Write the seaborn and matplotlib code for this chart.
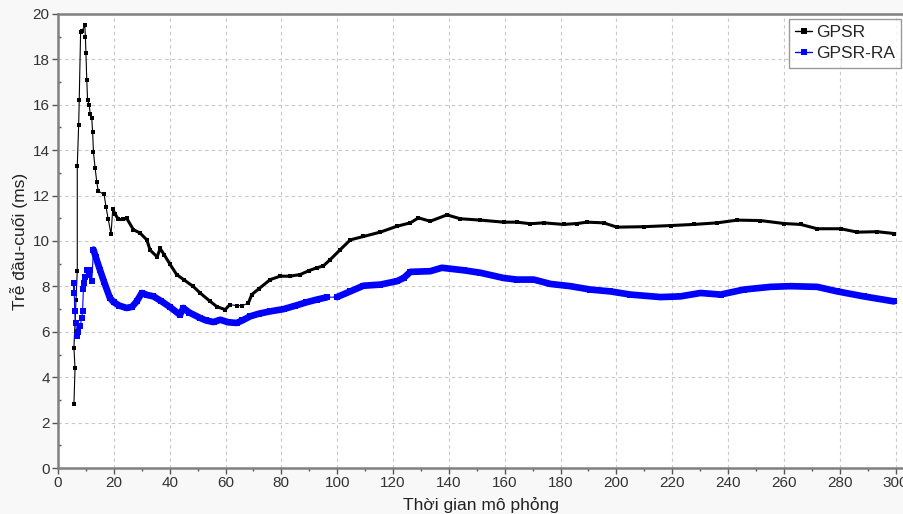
import numpy as np
import pandas as pd
import matplotlib
matplotlib.use("Agg")
import matplotlib.pyplot as plt
import seaborn as sns
from matplotlib.ticker import MultipleLocator

## Data
gpsr_x = [5.7, 6.1, 5.7, 6.45, 6.9, 6.9, 7.4, 7.6, 8.1, 8.6, 9.6, 9.8, 10.0, 10.3,
          10.6, 11.2, 11.5, 12.1, 12.4, 12.7, 13.3, 13.9, 14.4, 16.5, 17.2, 18.0,
          19.0, 19.6, 20.4, 21.6, 23.4, 24.6, 27.0, 29.4, 31.8, 33.0, 35.5, 36.6,
          38.0, 40.0, 42.5, 45.0, 48.4, 51.0, 54.5, 57.0, 59.9, 61.6, 64.0, 66.0,
          68.2, 69.4, 72.0, 76.0, 79.6, 83.0, 86.7, 90.0, 92.7, 95.0, 97.5, 101.1,
          104.7, 109.4, 115.4, 121.4, 126.2, 129.1, 133.3, 139.3, 144.1, 151.3,
          159.6, 164.4, 169.2, 173.9, 181.1, 185.9, 189.5, 195.4, 200.2, 209.8,
          219.4, 227.7, 236.1, 243.3, 251.6, 260.0, 266.0, 271.9, 280.3, 286.3,
          293.4, 299.4]
gpsr_y = [2.8, 4.4, 5.3, 7.4, 8.7, 13.3, 15.1, 16.2, 19.2, 19.25, 19.5, 19.0, 18.3,
          17.1, 16.2, 16.0, 15.6, 15.4, 14.8, 13.9, 13.2, 12.6, 12.2, 12.05, 11.5,
          10.95, 10.3, 11.4, 11.2, 10.95, 10.95, 11.0, 10.5, 10.35, 10.05, 9.6, 9.3,
          9.67, 9.4, 9.0, 8.52, 8.3, 8.0, 7.7, 7.34, 7.1, 6.98, 7.2, 7.15, 7.15,
          7.27, 7.64, 7.9, 8.3, 8.45, 8.45, 8.52, 8.7, 8.82, 8.9, 9.18, 9.62,
          10.05, 10.2, 10.39, 10.65, 10.8, 11.02, 10.87, 11.15, 10.98, 10.92,
          10.83, 10.83, 10.76, 10.8, 10.73, 10.77, 10.83, 10.8, 10.61, 10.63,
          10.68, 10.73, 10.8, 10.92, 10.9, 10.77, 10.73, 10.54, 10.54, 10.39,
          10.41, 10.33]

ra_x = [5.6, 5.7, 6.0, 6.3, 6.9, 7.3, 7.9, 8.5, 8.8, 9.1, 9.3, 9.8, 10.5, 11.2,
        11.6, 12.1, 12.7, 13.5, 15.0, 16.5, 18.6, 20.0, 22.0, 24.6, 26.5, 28.2,
        30.0, 32.0, 34.2, 37.0, 40.0, 43.7, 44.9, 47.0, 50.9, 53.0, 55.7, 58.1,
        61.0, 64.0, 66.0, 68.8, 72.0, 76.0, 80.8, 85.0, 89.0, 92.7, 96.3, 99.9,
        104.7, 109.4, 115.4, 121.4, 123.8, 126.2, 133.3, 137.5, 145.3, 151.3,
        159.6, 164.4, 170.4, 176.3, 183.5, 190.7, 197.8, 205.0, 215.8, 222.9,
        230.1, 237.3, 245.6, 255.2, 262.4, 271.9, 279.1, 288.6, 299.4]
ra_y = [7.7, 8.15, 6.9, 6.4, 5.8, 6.0, 6.24, 6.6, 6.9, 7.9, 8.15, 8.4, 8.74, 8.5,
        8.74, 8.23, 9.62, 9.3, 8.74, 8.2, 7.49, 7.3, 7.15, 7.05, 7.1, 7.34,
        7.71, 7.62, 7.56, 7.35, 7.1, 6.75, 7.05, 6.85, 6.61, 6.5, 6.43, 6.53,
        6.42, 6.39, 6.5, 6.68, 6.8, 6.9, 7.0, 7.15, 7.3, 7.42, 7.52, 7.53,
        7.78, 8.03, 8.08, 8.23, 8.37, 8.64, 8.67, 8.82, 8.71, 8.6, 8.37, 8.3,
        8.3, 8.11, 8.01, 7.86, 7.78, 7.64, 7.53, 7.56, 7.71, 7.64, 7.86, 7.98,
        8.01, 7.98, 7.78, 7.56, 7.34]

series_names = ["GPSR", "GPSR-RA"]
x_label = "Thời gian mô phỏng"
y_label = "Trễ đầu-cuối (ms)"

## Build a long table for seaborn
df = pd.concat([
    pd.DataFrame({"t": gpsr_x, "delay": gpsr_y, "proto": series_names[0]}),
    pd.DataFrame({"t": ra_x, "delay": ra_y, "proto": series_names[1]}),
], ignore_index=True)
df["idx"] = df.groupby("proto").cumcount()

sns.set_theme(style="white")
plt.rcParams["font.family"] = ["Liberation Sans", "DejaVu Sans"]

fig = plt.figure(figsize=(9.04, 5.14), dpi=100, facecolor="#f8f8f8")
ax = fig.add_axes([58 / 904, 1 - 468 / 514, 1 - 58 / 904, (468 - 14) / 514])
ax.set_facecolor("white")

palette = {"GPSR": "black", "GPSR-RA": "#0000ff"}
thick = {"GPSR": 2.2, "GPSR-RA": 4.8}
marks = {"GPSR": 2.6, "GPSR-RA": 5.0}
# dense stretches of markers (drawn as a thick trace); outside them only a thin line
dense = {"GPSR": [(19.5, 61.7), (68.0, 301)],
         "GPSR-RA": [(12.6, 96.4), (99.8, 301)]}

for name in series_names:
    sub = df[df["proto"] == name]
    sns.lineplot(data=sub, x="t", y="delay", ax=ax, color=palette[name],
                 linewidth=0.8, marker="s", markersize=marks[name],
                 markeredgewidth=0, sort=False, estimator=None, label=name)
    for lo, hi in dense[name]:
        part = sub[(sub["t"] >= lo) & (sub["t"] <= hi)]
        sns.lineplot(data=part, x="t", y="delay", ax=ax, color=palette[name],
                     linewidth=thick[name], sort=False, estimator=None,
                     legend=False)

ax.set_xlim(0, 303)
ax.set_ylim(0, 20)
ax.xaxis.set_major_locator(MultipleLocator(20))
ax.xaxis.set_minor_locator(MultipleLocator(10))
ax.yaxis.set_major_locator(MultipleLocator(2))
ax.yaxis.set_minor_locator(MultipleLocator(1))

ax.grid(True, which="major", color="#c8c8c8", linestyle=(0, (3, 3)), linewidth=0.8)
for side in ["left", "bottom", "top"]:
    ax.spines[side].set_visible(True)
    ax.spines[side].set_color("#808080")
    ax.spines[side].set_linewidth(1.8)
ax.spines["right"].set_visible(False)

ax.tick_params(axis="both", which="major", direction="out", length=4, width=1,
               color="#555555", labelsize=11, labelcolor="#333333", pad=2,
               bottom=True, left=True)
ax.tick_params(axis="x", which="minor", direction="out", length=2, width=1,
               color="#555555", bottom=True)
ax.tick_params(axis="y", which="minor", direction="in", length=2, width=1,
               color="#555555", left=True)

ax.set_xlabel(x_label, fontsize=12.5, color="#222222", labelpad=5)
ax.set_ylabel(y_label, fontsize=12.5, color="#222222", labelpad=3)

leg = ax.legend(loc="upper right", bbox_to_anchor=(1 - 3 / 846, 1 - 5 / 454),
                borderaxespad=0, fontsize=12.5, frameon=True, fancybox=False,
                edgecolor="#808080", handlelength=1.0, handletextpad=0.2,
                borderpad=0.35, labelspacing=0.35)
leg.get_frame().set_linewidth(1.0)
for line in leg.get_lines():
    line.set_linewidth(1.0)
    line.set_markersize(4)

fig.savefig("out.png", dpi=100, facecolor=fig.get_facecolor())
